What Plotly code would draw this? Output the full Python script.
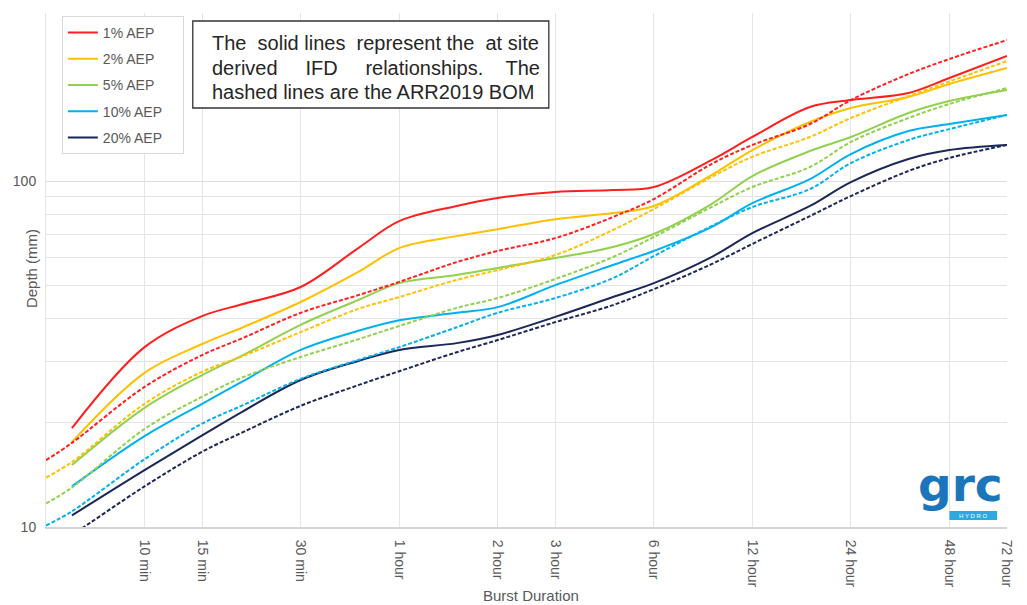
import math
import plotly.graph_objects as go

# Burst durations in minutes
DUR_BOM = [5, 6, 10, 15, 20, 30, 45, 60, 90, 120, 180, 270, 360, 540, 720,
           1080, 1440, 2160, 2880, 4320]
DUR_SITE = DUR_BOM[1:]

# At-site derived IFD depths (mm)
site_1 = [19.3, 33.1, 40.7, 44.1, 49.4, 64.0, 76.6, 84.7, 89.3, 93.0, 94.2, 96.1,
          115.0, 134.1, 163.7, 171.4, 179.6, 198.5, 229.8]
site_2 = [17.6, 27.9, 33.8, 37.8, 44.7, 54.6, 64.0, 69.3, 72.6, 77.6, 80.8, 84.7,
          104.0, 122.9, 148.1, 162.6, 174.9, 190.7, 212.2]
site_5 = [15.1, 22.1, 27.5, 31.4, 38.4, 45.3, 50.7, 53.5, 56.1, 59.9, 64.5, 70.3,
          85.8, 103.4, 122.1, 134.1, 157.3, 170.3, 183.2]
site_10 = [13.1, 18.3, 22.7, 26.4, 32.5, 36.9, 39.6, 41.6, 43.2, 50.0, 57.2, 62.8,
           73.6, 86.3, 101.3, 119.7, 139.5, 146.1, 155.2]
site_20 = [10.8, 14.6, 18.4, 21.6, 26.6, 30.2, 32.5, 34.0, 35.9, 40.5, 46.2, 50.7,
           60.3, 70.7, 84.7, 99.3, 115.8, 122.9, 127.1]

# ARR2019 BOM IFD depths (mm)
bom_1 = [15.6, 17.5, 25.4, 31.4, 35.2, 41.6, 46.8, 51.1, 58.3, 62.8, 68.4, 78.7,
         88.7, 112.0, 127.1, 146.1, 171.4, 203.8, 225.3, 255.6]
bom_2 = [13.9, 15.4, 22.7, 28.1, 31.2, 36.6, 42.7, 46.2, 51.8, 55.3, 61.1, 72.2,
         83.0, 102.7, 117.5, 134.1, 152.1, 176.0, 194.0, 222.3]
bom_5 = [11.7, 13.0, 19.2, 23.8, 27.1, 31.0, 34.9, 38.1, 43.0, 45.9, 52.1, 60.3,
         68.9, 84.1, 96.1, 109.8, 129.7, 152.1, 167.0, 185.7]
bom_10 = [10.1, 11.1, 15.7, 19.9, 22.5, 26.8, 30.4, 33.1, 37.8, 41.6, 45.9, 52.4,
          60.7, 74.1, 84.1, 94.8, 112.7, 131.4, 141.3, 155.2]
bom_20 = [8.6, 9.5, 13.1, 16.5, 18.8, 22.4, 25.7, 28.2, 32.0, 34.7, 39.1, 43.8,
          48.7, 57.5, 65.8, 79.2, 90.5, 106.9, 116.6, 127.1]

AEP_NAMES = ["1% AEP", "2% AEP", "5% AEP", "10% AEP", "20% AEP"]
COLORS = ["#FF1F1F", "#FFC000", "#92D050", "#00B0F0", "#1B2757"]
SITE = [site_1, site_2, site_5, site_10, site_20]
BOM = [bom_1, bom_2, bom_5, bom_10, bom_20]

TICK_MIN = [10, 15, 30, 60, 120, 180, 360, 720, 1440, 2880, 4320]
TICK_TEXT = ["10 min", "15 min", "30 min", "1 hour", "2 hour", "3 hour",
             "6 hour", "12 hour", "24 hour", "48 hour", "72 hour"]

W, H = 1027, 605
PL, PR, PT, PB = 46, 1015, 13, 527
FONT = "Liberation Sans, Arial, sans-serif"
GREY = "#595959"
NB = "\u00a0"


def fx(px):
    return (px - PL) / (PR - PL)


def fy(py):
    return 1 - (py - PT) / (PB - PT)


fig = go.Figure()

# legend labels padded so the legend box is as wide as the original layout
for name, col, ys in zip(AEP_NAMES, COLORS, SITE):
    fig.add_trace(go.Scatter(
        x=DUR_SITE, y=ys, mode="lines", name=name + NB * 4, legendgroup=name,
        line=dict(color=col, width=2, shape="spline", smoothing=1.0)))

for name, col, ys in zip(AEP_NAMES, COLORS, BOM):
    fig.add_trace(go.Scatter(
        x=DUR_BOM, y=ys, mode="lines", name=name + " (BOM)", legendgroup=name,
        showlegend=False,
        line=dict(color=col, width=2, dash="4px,2px", shape="spline",
                  smoothing=1.0)))

fig.update_xaxes(
    type="log", range=[math.log10(5), math.log10(4320)],
    tickmode="array", tickvals=TICK_MIN, ticktext=TICK_TEXT, tickangle=90,
    tickfont=dict(family=FONT, size=14, color=GREY), ticks="",
    ticklabelstandoff=8,
    showgrid=True, gridcolor="#e4e4e4", gridwidth=1,
    showline=True, linecolor="#d4d4d4", linewidth=2, zeroline=False)

fig.update_yaxes(
    type="log", range=[1, math.log10(306)],
    tickmode="array", tickvals=[10, 100], ticktext=["10", "100"],
    tickfont=dict(family=FONT, size=14, color=GREY), ticks="",
    ticklabelstandoff=6,
    showgrid=True, gridcolor="#dedede", gridwidth=1,
    minor=dict(tickvals=[20, 30, 40, 50, 60, 70, 80, 90], showgrid=True,
               gridcolor="#e4e4e4", gridwidth=1, ticks=""),
    showline=True, linecolor="#e4e4e4", linewidth=1, zeroline=False)

annotations = [
    dict(text="Depth (mm)", textangle=-90, x=fx(31), y=fy(269),
         xanchor="center", yanchor="middle",
         font=dict(family=FONT, size=15, color=GREY)),
    dict(text="Burst Duration", x=fx(535), y=fy(595),
         xanchor="center", yanchor="middle",
         font=dict(family=FONT, size=15, color=GREY)),
]

note_lines = [
    ("The" + NB * 2 + "solid lines" + NB * 2 + "represent the" + NB * 2 + "at site", 43),
    ("derived" + NB * 5 + "IFD" + NB * 5 + "relationships." + NB * 4 + "The", 68),
    ("hashed lines are the ARR2019 BOM", 92),
]
for txt, py in note_lines:
    annotations.append(dict(text=txt, x=fx(211), y=fy(py), xanchor="left",
                            yanchor="middle",
                            font=dict(family=FONT, size=20, color="#262626")))

# grc HYDRO logo
annotations.append(dict(text="<b>grc</b>", x=fx(1013), y=fy(484),
                        xanchor="right", yanchor="middle",
                        font=dict(family="DejaVu Sans, sans-serif",
                                  size=47, color="#1B75BB")))
annotations.append(dict(text="H Y D R O", x=fx(981), y=fy(515.5),
                        xanchor="center", yanchor="middle",
                        font=dict(family=FONT, size=6, color="white")))

for a in annotations:
    a.setdefault("xref", "paper")
    a.setdefault("yref", "paper")
    a.setdefault("showarrow", False)

shapes = [
    dict(type="rect", xref="paper", yref="paper", x0=fx(194), x1=fx(553),
         y0=fy(108), y1=fy(21), line=dict(color="#333333", width=1.3),
         fillcolor="white", layer="above"),
    dict(type="rect", xref="paper", yref="paper", x0=fx(957), x1=fx(1005),
         y0=fy(520), y1=fy(511), line=dict(width=0), fillcolor="#2BA9E0",
         layer="above"),
]

fig.update_layout(
    width=W, height=H, autosize=False,
    margin=dict(l=PL, r=W - PR, t=PT, b=H - PB, pad=0),
    paper_bgcolor="white", plot_bgcolor="white",
    showlegend=True,
    legend=dict(x=fx(62), y=fy(16), xanchor="left", yanchor="top",
                bgcolor="white", bordercolor="#d9d9d9", borderwidth=1,
                font=dict(family=FONT, size=14, color=GREY),
                tracegroupgap=5, itemwidth=30),
    annotations=annotations, shapes=shapes,
)

fig.write_html("out.html")
